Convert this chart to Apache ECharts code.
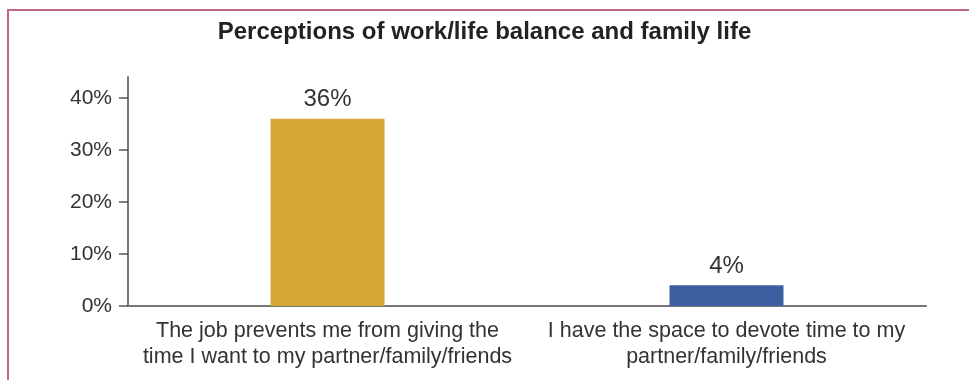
<!DOCTYPE html>
<html>
<head>
<meta charset="utf-8">
<script src="https://cdn.jsdelivr.net/npm/echarts@6/dist/echarts.min.js"></script>
<style>
  html, body { margin: 0; padding: 0; background: #fff; }
  #frame {
    position: absolute; left: 7px; top: 9px; right: 0; bottom: 0;
    border-top: 2px solid #c2678a; border-left: 2px solid #c2678a;
  }
  #chart { position: absolute; left: 0; top: 0; width: 969px; height: 380px; }
</style>
</head>
<body>
<div id="frame"></div>
<div id="chart"></div>
<script>
// Survey answers about work/life balance (share of respondents, %)
const categories = [
  'The job prevents me from giving the\ntime I want to my partner/family/friends',
  'I have the space to devote time to my\npartner/family/friends'
];
const shares = [36, 4];
const barColors = ['#d4a833', '#3e5fa0'];
const yTicks = [0, 10, 20, 30, 40];

const chart = echarts.init(document.getElementById('chart'), null, { renderer: 'canvas' });
const textFont = 'Liberation Sans, Arial, Helvetica, sans-serif';

chart.setOption({
  animation: false,
  title: {
    text: 'Perceptions of work/life balance and family life',
    left: 'center',
    top: 15,
    textStyle: { fontFamily: textFont, fontSize: 24, fontWeight: 'bold', color: '#222' }
  },
  grid: { left: 128, right: 43, top: 77, bottom: 74 },
  xAxis: {
    type: 'category',
    data: categories,
    axisLine: { lineStyle: { color: '#777', width: 2 } },
    axisTick: { alignWithLabel: true, length: 10, lineStyle: { color: '#555', width: 1.5 } },
    axisLabel: {
      margin: 12, fontFamily: textFont, fontSize: 21.5, color: '#333', lineHeight: 26,
      interval: 0
    }
  },
  yAxis: {
    type: 'value',
    min: 0,
    max: 44,
    interval: 10,
    splitLine: { show: false },
    axisLine: { show: true, lineStyle: { color: '#777', width: 2 } },
    axisTick: { show: true, length: 9, customValues: yTicks, lineStyle: { color: '#555', width: 1.5 } },
    axisLabel: {
      customValues: yTicks,
      margin: 16, fontFamily: textFont, fontSize: 21, color: '#333',
      formatter: v => v + '%'
    }
  },
  series: [{
    type: 'bar',
    barWidth: 114,
    data: shares.map((v, i) => ({ value: v, itemStyle: { color: barColors[i] } })),
    label: {
      show: true, position: 'top', distance: 7,
      fontFamily: textFont, fontSize: 24, color: '#333',
      formatter: p => p.value + '%'
    }
  }]
});
</script>
</body>
</html>
